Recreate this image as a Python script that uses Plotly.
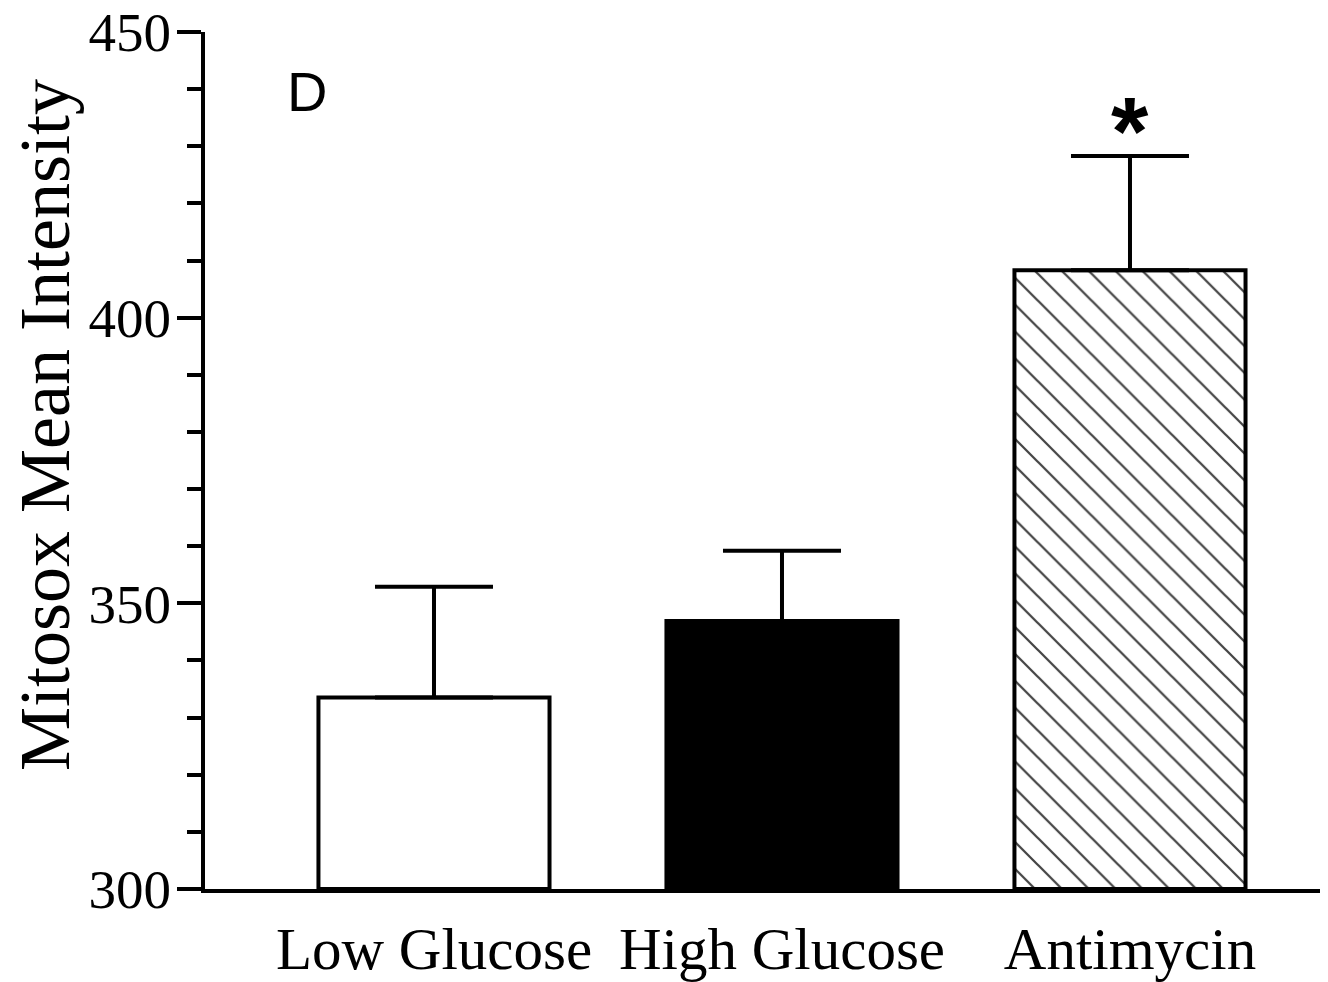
import plotly.graph_objects as go

categories = ["Low Glucose", "High Glucose", "Antimycin"]
means = [333.5, 346.9, 408.3]
errors = [19.4, 12.3, 20.0]
fill_colors = ["white", "black", "white"]
patterns = ["", "", "\\"]

y_ticks = [300, 350, 400, 450]
baseline = 300

fig = go.Figure()
fig.add_trace(go.Bar(
    x=[0, 1, 2],
    y=[m - baseline for m in means],
    base=baseline,
    width=0.664,
    marker=dict(
        color=fill_colors,
        line=dict(color="black", width=4),
        pattern=dict(shape=patterns, fgcolor="black", bgcolor="white", fgopacity=1,
                     size=19, solidity=0.12, fillmode="overlay"),
    ),
    error_y=dict(type="data", symmetric=False, array=errors,
                 arrayminus=[0, 0, 0], color="black", thickness=4, width=59),
))

fig.add_annotation(x=2, y=432.7, yref="y", xref="x",
                   text="<b>*</b>", showarrow=False, yanchor="middle",
                   font=dict(family="Liberation Sans", size=96, color="black"))
fig.add_annotation(x=-0.428, y=445.5, xref="x", yref="y", text="D", showarrow=False,
                   xanchor="left", yanchor="top",
                   font=dict(family="Liberation Sans", size=56, color="black"))
fig.add_annotation(x=-0.1435, y=0.5414, xref="paper", yref="paper",
                   text="Mitosox Mean Intensity", showarrow=False, textangle=-90,
                   xanchor="center", yanchor="middle",
                   font=dict(family="Liberation Serif", size=72, color="black"))

fig.update_layout(
    width=1328, height=982,
    margin=dict(l=205, r=8, t=32, b=93),
    plot_bgcolor="white", paper_bgcolor="white",
    showlegend=False,
    font=dict(family="Liberation Serif", color="black"),
    xaxis=dict(
        range=[-0.658, 2.546],
        tickmode="array", tickvals=[0, 1, 2], ticktext=categories,
        showline=True, linewidth=4, linecolor="black",
        ticks="", showgrid=False, zeroline=False, automargin=False,
        tickfont=dict(family="Liberation Serif", size=59),
        ticklabelstandoff=5,
    ),
    yaxis=dict(
        range=[300, 450],
        tickmode="array", tickvals=y_ticks,
        showline=True, linewidth=4, linecolor="black",
        ticks="outside", ticklen=24, tickwidth=4, tickcolor="black",
        minor=dict(dtick=10, ticks="outside", ticklen=14, tickwidth=4, tickcolor="black"),
        showgrid=False, zeroline=False, automargin=False,
        tickfont=dict(family="Liberation Serif", size=55),
        ticklabelstandoff=-5,
    ),
)

fig.write_html("out.html")
